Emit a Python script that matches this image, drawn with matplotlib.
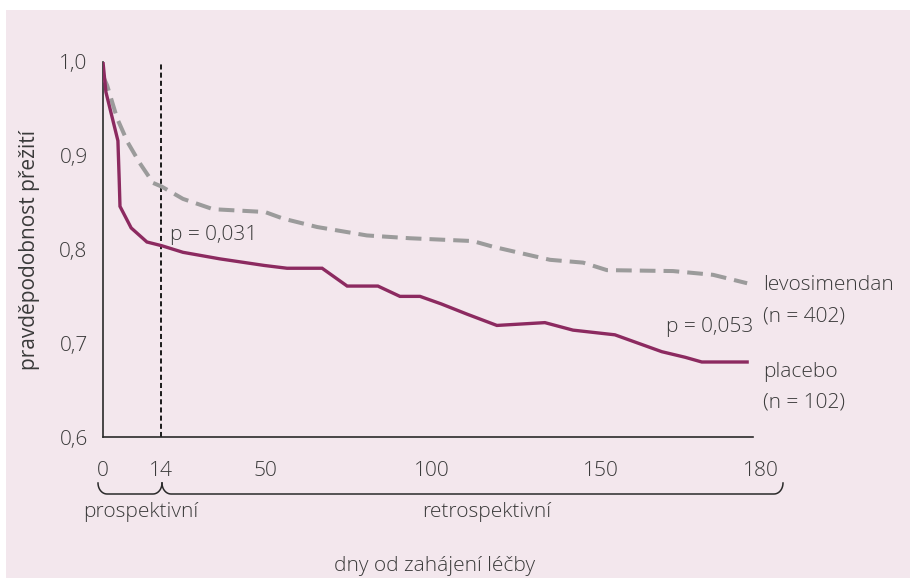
'''Kaplan-Meier style survival curves: levosimendan vs placebo'''
import numpy as np
import matplotlib
matplotlib.use('Agg')
import matplotlib.pyplot as plt
from matplotlib.patches import Rectangle
from matplotlib.lines import Line2D
from matplotlib import rcParams

params = {'font.family': ['Open Sans', 'DejaVu Sans'], 'font.weight': 'light', 'font.size': 15}
rcParams.update(params)

# data (days, survival probability)
plac_days = [0, 0.7, 3.6, 3.9, 4.1, 6.8, 10.6, 14.3, 21.6, 34.4, 49.7, 56.6, 67.1, 74.6, 83.8,
             90.4, 96.4, 102.7, 110.4, 119.2, 133.4, 141.7, 152.6, 161.4, 165.8, 168.9, 177.4]
plac_surv = [1.0, 0.968, 0.916, 0.876, 0.846, 0.823, 0.808, 0.804, 0.797, 0.790, 0.783, 0.780, 0.780,
             0.761, 0.761, 0.750, 0.750, 0.742, 0.731, 0.719, 0.722, 0.714, 0.709, 0.691, 0.685, 0.680, 0.680]

levo_days = [0, 1.0, 3.4, 6.0, 8.9, 12.1, 14.3, 21.6, 32.0, 50.0, 55.4, 65.6, 80.5, 93.4,
             112.1, 118.0, 134.9, 144.7, 151.1, 163.5, 171.0, 177.4]
levo_surv = [0.985, 0.975, 0.940, 0.914, 0.892, 0.871, 0.867, 0.854, 0.843, 0.840, 0.833, 0.824,
             0.815, 0.812, 0.809, 0.803, 0.789, 0.786, 0.778, 0.777, 0.773, 0.764]

x_ticks = [0, 14, 50, 100, 150, 180]
y_ticks = [0.6, 0.7, 0.8, 0.9, 1.0]
y_labels = ['0,6', '0,7', '0,8', '0,9', '1,0']

# the original axis is not linear: positions of the tick days along the axis
tick_pos = [0, 58, 162, 329, 498, 658]

def fwd(d):
    return np.interp(d, x_ticks, tick_pos)

def inv(p):
    return np.interp(p, tick_pos, x_ticks)

c_plac = '#8c2a60'
c_levo = '#9b9b9b'
c_text = '#3a3a3a'
bg = '#f3e7ed'

W, H = 910, 578
fig = plt.figure(figsize=(W / 100, H / 100), dpi=100)
fig.patch.set_facecolor('white')
fig.patches.append(Rectangle((6 / W, 0), 1, 1 - 10 / H, transform=fig.transFigure,
                             facecolor=bg, edgecolor='none', zorder=-5))

ax = fig.add_axes([103 / W, 1 - 437 / H, 658 / W, 375 / H])
ax.set_facecolor('none')
ax.set_xscale('function', functions=(fwd, inv))
ax.set_xlim(0, 180)
ax.set_ylim(0.6, 1.0)

ax.plot(levo_days, levo_surv, color=c_levo, lw=2.9, ls=(0, (3.9, 2.0)), dash_capstyle='butt', zorder=3)
ax.plot(plac_days, plac_surv, color=c_plac, lw=2.4, solid_joinstyle='miter', zorder=4)
ax.axvline(14, color='#1a1a1a', lw=1.4, ls=(0, (2.6, 1.6)), zorder=2)

for s in ['top', 'right']:
    ax.spines[s].set_visible(False)
ax.spines['left'].set_color('#2a2a2a')
ax.spines['bottom'].set_color('#2a2a2a')
ax.spines['left'].set_linewidth(1.2)
ax.spines['bottom'].set_linewidth(1.2)
ax.spines['bottom'].set_bounds(0, 178.5)

ax.set_xticks(x_ticks)
ax.set_xticklabels([str(t) for t in x_ticks], color=c_text)
ax.set_yticks(y_ticks)
ax.set_yticklabels(y_labels, color=c_text)
ax.tick_params(axis='x', length=0, pad=17)
ax.tick_params(axis='y', length=0, pad=11)

ax.set_ylabel('pravděpodobnost přežití', color=c_text)
ax.yaxis.set_label_coords(-0.095, 0.5)

# annotations
ax.text(17.0, 0.810, 'p = 0,031', color=c_text, ha='left', va='baseline')
ax.text(178.5, 0.712, 'p = 0,053', color=c_text, ha='right', va='baseline')
fig.text(763 / W, 1 - 290 / H, 'levosimendan', color=c_text, ha='left', va='baseline')
fig.text(763 / W, 1 - 321 / H, '(n = 402)', color=c_text, ha='left', va='baseline')
fig.text(763 / W, 1 - 377 / H, 'placebo', color=c_text, ha='left', va='baseline')
fig.text(763 / W, 1 - 407 / H, '(n = 102)', color=c_text, ha='left', va='baseline')

# curly braces under the axis (figure pixels)
def brace(x0, x1, ytop, ybot, r=9):
    t = np.linspace(0, np.pi / 2, 12)
    xs = np.concatenate([x0 + r - r * np.cos(t), [x1 - r], x1 - r + r * np.sin(t)])
    ys = np.concatenate([ytop + (ybot - ytop) * np.sin(t), [ybot], ybot - (ybot - ytop) * (1 - np.cos(t))])
    fig.lines.append(Line2D(xs / W, 1 - ys / H, transform=fig.transFigure, color='#2a2a2a', lw=1.1))

brace(98, 162, 483, 494)
brace(162, 783, 483, 494)

fig.text(141 / W, 1 - 512 / H, 'prospektivní', color=c_text, ha='center', va='center')
fig.text(487 / W, 1 - 512 / H, 'retrospektivní', color=c_text, ha='center', va='center')
fig.text(435 / W, 1 - 566 / H, 'dny od zahájení léčby', color=c_text, ha='center', va='center')

plt.savefig('out.png', dpi=100, facecolor=fig.get_facecolor())
